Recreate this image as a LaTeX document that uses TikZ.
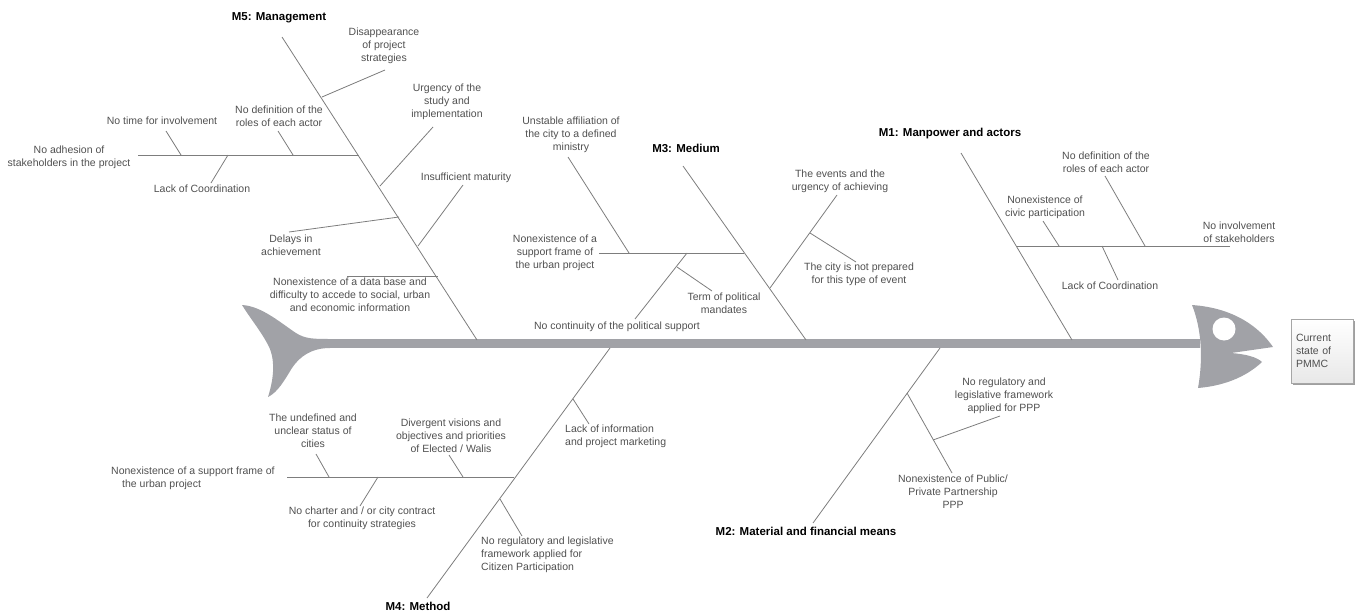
\documentclass[tikz,border=0pt]{standalone}
\usepackage{fontspec}
\setmainfont{Liberation Sans}
\usetikzlibrary{shadows}

\definecolor{fishgrey}{RGB}{161,162,167}
\definecolor{bonegrey}{RGB}{125,125,125}
\definecolor{causegrey}{RGB}{80,80,80}

\tikzset{
  bone/.style={draw=bonegrey, line width=0.8pt},
  cause/.style={text=causegrey, font=\fontsize{10.5}{13}\selectfont, align=center, inner sep=0pt},
  heading/.style={font=\fontsize{11.5}{14}\selectfont\bfseries, inner sep=0pt},
  effectbox/.style={draw=gray!70, top color=white, bottom color=gray!18, text=causegrey,
    font=\fontsize{10.5}{13}\selectfont, align=left, text width=52pt, inner xsep=5pt,
    minimum width=62pt, minimum height=64pt,
    drop shadow={shadow xshift=2pt, shadow yshift=-2pt, fill=gray!75, opacity=1}}
}

\begin{document}
\begin{tikzpicture}[x=1pt, y=-1pt]
    \useasboundingbox (0,0) rectangle (1364,613);

    % Fish body
    \coordinate (tailend) at (320,343.5);
    \coordinate (headend) at (1200,343.5);
    \draw[fishgrey, line width=9pt] (tailend) -- (headend);
    \fill[fishgrey] (242,305) .. controls (262,306) and (282,324) .. (296,333)
        .. controls (305,339) and (315,339) .. (330,339) -- (330,348)
        .. controls (312,348) and (300,356) .. (292,368)
        .. controls (284,381) and (278,392) .. (268,397)
        .. controls (274,378) and (276,358) .. (267,343)
        .. controls (260,330) and (250,318) .. (242,305) -- cycle;
    \fill[fishgrey] (1192,305) .. controls (1235,308) and (1260,328) .. (1273,347)
        -- (1231,353) .. controls (1245,354) and (1257,357) .. (1262,362)
        .. controls (1245,378) and (1222,386) .. (1198,388)
        .. controls (1203,360) and (1202,330) .. (1192,305) -- cycle;
    \fill[white] (1224,329) circle (11.5pt);

    % Effect
    \node[effectbox] (state) at (1322,351) {Current\\state of\\PMMC};

    % M5: Management
    \node[heading] (management) at (279,18) {M5: Management};
    \coordinate (mgtop) at (282,37);
    \coordinate (mgbot) at (477,340);
    \draw[bone] (mgtop) -- (mgbot);
    \node[cause] (disappear) at (384,46) {Disappearance\\of project\\strategies};
    \coordinate (disappearA) at (385,70); \coordinate (disappearB) at (322,97);
    \draw[bone] (disappearA) -- (disappearB);
    \node[cause] (urgency) at (447,102) {Urgency of the\\study and\\implementation};
    \coordinate (urgencyA) at (433,127); \coordinate (urgencyB) at (380,186);
    \draw[bone] (urgencyA) -- (urgencyB);
    \node[cause] (maturity) at (466,178) {Insufficient maturity};
    \coordinate (maturityA) at (463,185); \coordinate (maturityB) at (418,246);
    \draw[bone] (maturityA) -- (maturityB);
    \node[cause] (delays) at (291,245) {Delays in\\achievement};
    \coordinate (delaysA) at (289,232); \coordinate (delaysB) at (399,217);
    \draw[bone] (delaysA) -- (delaysB);
    \node[cause] (database) at (350,295) {Nonexistence of a data base and\\difficulty to accede to social, urban\\and economic information};
    \coordinate (databaseA) at (347,276); \coordinate (databaseB) at (438,276);
    \draw[bone] (databaseA) -- (databaseB);
    \node[cause] (adhesion) at (69,157) {No adhesion of\\stakeholders in the project};
    \coordinate (adhesionA) at (138,155); \coordinate (adhesionB) at (359,155);
    \draw[bone] (adhesionA) -- (adhesionB);
    \node[cause] (notime) at (162,121) {No time for involvement};
    \coordinate (notimeA) at (166,131); \coordinate (notimeB) at (181,155);
    \draw[bone] (notimeA) -- (notimeB);
    \node[cause] (rolesmg) at (279,116) {No definition of the\\roles of each actor};
    \coordinate (rolesmgA) at (278,131); \coordinate (rolesmgB) at (293,155);
    \draw[bone] (rolesmgA) -- (rolesmgB);
    \node[cause] (coordmg) at (202,189) {Lack of Coordination};
    \coordinate (coordmgA) at (211,183); \coordinate (coordmgB) at (228,155);
    \draw[bone] (coordmgA) -- (coordmgB);

    % M3: Medium
    \node[heading] (medium) at (686,148) {M3: Medium};
    \coordinate (medtop) at (683,166);
    \coordinate (medbot) at (806,340);
    \draw[bone] (medtop) -- (medbot);
    \node[cause] (frame) at (555,253) {Nonexistence of a\\support frame of\\the urban project};
    \coordinate (frameA) at (599,253); \coordinate (frameB) at (744,253);
    \draw[bone] (frameA) -- (frameB);
    \node[cause] (affiliation) at (571,135) {Unstable affiliation of\\the city to a defined\\ministry};
    \coordinate (affiliationA) at (568,157); \coordinate (affiliationB) at (629,253);
    \draw[bone] (affiliationA) -- (affiliationB);
    \node[cause] (continuity) at (617,327) {No continuity of the political support};
    \coordinate (continuityA) at (635,319); \coordinate (continuityB) at (687,253);
    \draw[bone] (continuityA) -- (continuityB);
    \node[cause] (mandates) at (724,303) {Term of political\\mandates};
    \coordinate (mandatesA) at (712,291); \coordinate (mandatesB) at (677,267);
    \draw[bone] (mandatesA) -- (mandatesB);
    \node[cause] (events) at (840,181) {The events and the\\urgency of achieving};
    \coordinate (eventsA) at (837,195); \coordinate (eventsB) at (770,288);
    \draw[bone] (eventsA) -- (eventsB);
    \node[cause] (prepared) at (859,274) {The city is not prepared\\for this type of event};
    \coordinate (preparedA) at (856,262); \coordinate (preparedB) at (810,233);
    \draw[bone] (preparedA) -- (preparedB);

    % M1: Manpower and actors
    \node[heading] (manpower) at (950,134) {M1: Manpower and actors};
    \coordinate (mantop) at (961,153);
    \coordinate (manbot) at (1072,340);
    \draw[bone] (mantop) -- (manbot);
    \node[cause] (involvement) at (1239,232) {No involvement\\of stakeholders};
    \coordinate (involvementA) at (1230,246); \coordinate (involvementB) at (1017,246);
    \draw[bone] (involvementA) -- (involvementB);
    \node[cause] (civic) at (1045,207) {Nonexistence of\\civic participation};
    \coordinate (civicA) at (1043,221); \coordinate (civicB) at (1059,246);
    \draw[bone] (civicA) -- (civicB);
    \node[cause] (rolesman) at (1106,162) {No definition of the\\roles of each actor};
    \coordinate (rolesmanA) at (1105,176); \coordinate (rolesmanB) at (1145,246);
    \draw[bone] (rolesmanA) -- (rolesmanB);
    \node[cause] (coordman) at (1110,286) {Lack of Coordination};
    \coordinate (coordmanA) at (1118,280); \coordinate (coordmanB) at (1102,246);
    \draw[bone] (coordmanA) -- (coordmanB);

    % M4: Method
    \node[heading] (method) at (418,606) {M4: Method};
    \coordinate (mettop) at (610,348);
    \coordinate (metbot) at (427,598);
    \draw[bone] (mettop) -- (metbot);
    \node[cause, anchor=west, align=left] (marketing) at (565,436) {Lack of information\\and project marketing};
    \coordinate (marketingA) at (589,424); \coordinate (marketingB) at (573,399);
    \draw[bone] (marketingA) -- (marketingB);
    \node[cause, anchor=west, align=left] (citizen) at (481,555) {No regulatory and legislative\\framework applied for\\Citizen Participation};
    \coordinate (citizenA) at (522,536); \coordinate (citizenB) at (500,499);
    \draw[bone] (citizenA) -- (citizenB);
    \node[cause, anchor=west, align=left] (support) at (111,478) {Nonexistence of a support frame of\\\hspace*{11pt}the urban project};
    \coordinate (supportA) at (287,477); \coordinate (supportB) at (514,477);
    \draw[bone] (supportA) -- (supportB);
    \node[cause] (status) at (313,431) {The undefined and\\unclear status of\\cities};
    \coordinate (statusA) at (316,454); \coordinate (statusB) at (329,477);
    \draw[bone] (statusA) -- (statusB);
    \node[cause] (visions) at (451,436) {Divergent visions and\\objectives and priorities\\of Elected / Walis};
    \coordinate (visionsA) at (449,455); \coordinate (visionsB) at (463,477);
    \draw[bone] (visionsA) -- (visionsB);
    \node[cause] (charter) at (362,518) {No charter and / or city contract\\for continuity strategies};
    \coordinate (charterA) at (360,506); \coordinate (charterB) at (378,477);
    \draw[bone] (charterA) -- (charterB);

    % M2: Material and financial means
    \node[heading] (means) at (806,531) {M2: Material and financial means};
    \coordinate (meatop) at (940,348);
    \coordinate (meabot) at (813,523);
    \draw[bone] (meatop) -- (meabot);
    \node[cause] (partnership) at (953,492) {Nonexistence of Public/\\Private Partnership\\PPP};
    \coordinate (partnershipA) at (952,473); \coordinate (partnershipB) at (907,393);
    \draw[bone] (partnershipA) -- (partnershipB);
    \node[cause] (ppp) at (1004,396) {No regulatory and\\legislative framework\\applied for PPP};
    \coordinate (pppA) at (1000,416); \coordinate (pppB) at (933,440);
    \draw[bone] (pppA) -- (pppB);
\end{tikzpicture}
\end{document}
